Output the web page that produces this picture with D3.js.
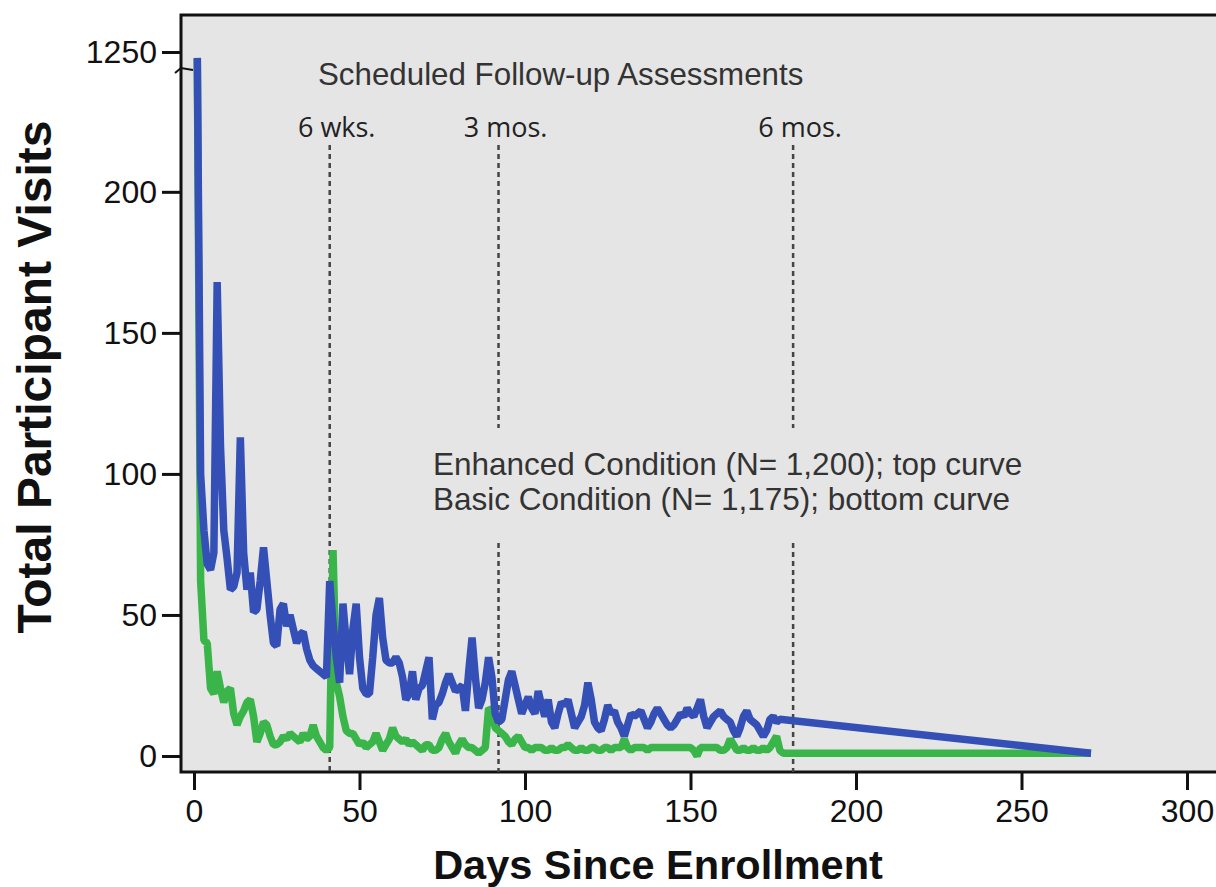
<!DOCTYPE html>
<html>
<head>
<meta charset="utf-8">
<script src="https://cdn.jsdelivr.net/npm/d3@7/dist/d3.min.js"></script>
<style>
  body { margin: 0; background: #fff; }
  text { font-family: "Liberation Sans", Arial, sans-serif; }
</style>
</head>
<body>
<div id="chart"></div>
<script>
// daily visit totals, starting at day 1
const firstDay = 1;
const enhanced = [
  1030, 100, 80, 68, 66, 72, 168, 110, 80, 70,
  59, 60, 65, 113, 72, 59, 65, 51, 52, 62,
  74, 62, 50, 40, 39, 52, 54, 46, 50, 45,
  40, 43, 44, 38, 34, 32, 31, 30, 29, 28,
  62, 47, 35, 26, 54, 40, 29, 45, 54, 35,
  24, 22, 22, 35, 50, 56, 42, 34, 33, 33,
  35, 33, 28, 20, 22, 30, 20, 24, 25, 30,
  35, 13, 18, 19, 22, 26, 29, 26, 23, 24,
  25, 16, 30, 42, 28, 17, 20, 26, 35, 28,
  15, 12, 13, 20, 27, 30, 25, 20, 15, 18,
  21, 17, 15, 23, 18, 14, 20, 12, 10, 15,
  19, 18, 20, 15, 10, 12, 14, 18, 26, 20,
  12, 10, 9, 13, 18, 15, 16, 12, 10, 7,
  11, 15, 14, 15, 16, 13, 10, 12, 15, 17,
  15, 13, 11, 10, 11, 13, 15, 14, 17, 15,
  14, 17, 20, 14, 10, 12, 14, 15, 16, 14,
  13, 12, 9, 7, 10, 14, 16, 13, 12, 11,
  9, 7, 9, 13, 14, 12, 13
];
const basic = [
  1000, 62, 41, 40, 24, 22, 30, 24, 19, 23,
  24, 15, 11, 14, 16, 19, 20, 14, 5, 8,
  12, 11, 7, 4, 4, 5, 7, 6, 8, 7,
  6, 5, 8, 6, 7, 11, 7, 5, 3, 2,
  3, 73, 26, 21, 14, 9, 8, 8, 6, 4,
  5, 3, 4, 5, 8, 5, 2, 4, 6, 10,
  7, 6, 5, 6, 4, 5, 4, 3, 2, 4,
  4, 2, 2, 3, 6, 8, 5, 3, 1, 4,
  6, 4, 3, 3, 2, 1, 2, 3, 17, 16,
  10, 9, 8, 7, 5, 4, 6, 7, 5, 3,
  3, 2, 3, 3, 3, 2, 2, 3, 2, 2,
  3, 3, 4, 3, 2, 2, 3, 2, 2, 3,
  3, 2, 2, 3, 3, 2, 3, 3, 3, 6,
  3, 2, 3, 3, 3, 3, 2, 3, 3, 3,
  3, 3, 3, 3, 3, 3, 3, 3, 3, 3,
  2, 0, 3, 3, 3, 3, 3, 3, 2, 2,
  3, 6, 4, 2, 2, 3, 2, 2, 3, 2,
  2, 3, 2, 3, 5, 7, 2, 1
];
// last recorded day of each group
const enhancedEnd = [271, 1];
const basicEnd = [271, 1];

const xTicks = [0, 50, 100, 150, 200, 250, 300];
const yTicks = [0, 50, 100, 150, 200, 1250];
const followUps = [
  { day: 41, label: "6 wks." },
  { day: 92, label: "3 mos." },
  { day: 181, label: "6 mos." }
];
const conditionNotes = [
  "Enhanced Condition (N= 1,200); top curve",
  "Basic Condition (N= 1,175); bottom curve"
];

const width = 1216, height = 887;
const blue = "#3450b6", green = "#39b54a";

const svg = d3.select("#chart").append("svg")
  .attr("width", width)
  .attr("height", height);

const frame = { left: 181, top: 15, right: 1240, bottom: 772 };

const x = d3.scaleLinear().domain([0, 300]).range([194, 1187]);
// broken axis: 0-240 linear, then squeezed up to 1250
const y = d3.scaleLinear().domain([0, 240, 1250]).range([756, 79, 52]);

svg.append("rect")
  .attr("x", frame.left)
  .attr("y", frame.top)
  .attr("width", frame.right - frame.left)
  .attr("height", frame.bottom - frame.top)
  .attr("fill", "#e5e5e5")
  .attr("stroke", "#111")
  .attr("stroke-width", 3);

// dashed follow-up markers
const gapTop = 428, gapBottom = 543;
followUps.forEach((f, i) => {
  const fx = x(f.day);
  const segs = i === 0 ? [[145, frame.bottom]] : [[145, gapTop], [gapBottom, frame.bottom]];
  segs.forEach(s => {
    svg.append("line")
      .attr("x1", fx).attr("x2", fx)
      .attr("y1", s[0]).attr("y2", s[1])
      .attr("stroke", "#444")
      .attr("stroke-width", 2.5)
      .attr("stroke-dasharray", "5,4");
  });
  svg.append("text")
    .attr("x", fx + 7)
    .attr("y", 137)
    .attr("text-anchor", "middle")
    .style("font-family", "'Open Sans', sans-serif")
    .style("font-size", "27px")
    .attr("fill", "#222")
    .text(f.label);
});

svg.append("text")
  .attr("x", 318)
  .attr("y", 85)
  .style("font-size", "31.3px")
  .attr("fill", "#333")
  .text("Scheduled Follow-up Assessments");

conditionNotes.forEach((t, i) => {
  svg.append("text")
    .attr("x", 433)
    .attr("y", 475 + i * 35)
    .style("font-size", "31.5px")
    .attr("fill", "#333")
    .text(t);
});

const line = d3.line()
  .x(d => x(d[0]))
  .y(d => y(d[1]));

const toPoints = (vals, end) => vals.map((v, i) => [firstDay + i, v]).concat([end]);

[[basic, basicEnd, green], [enhanced, enhancedEnd, blue]].forEach(([vals, end, col]) => {
  svg.append("path")
    .datum(toPoints(vals, end))
    .attr("d", line)
    .attr("fill", "none")
    .attr("stroke", col)
    .attr("stroke-width", 7.5)
    .attr("stroke-linejoin", "bevel");
});

// axes
const xAxis = svg.append("g")
  .attr("transform", `translate(0,${frame.bottom})`)
  .call(d3.axisBottom(x).tickValues(xTicks).tickSize(18).tickPadding(9).tickFormat(d3.format("d")));
const yAxis = svg.append("g")
  .attr("transform", `translate(${frame.left},0)`)
  .call(d3.axisLeft(y).tickValues(yTicks).tickSize(19).tickPadding(5).tickFormat(d3.format("d")));

[xAxis, yAxis].forEach(a => {
  a.select(".domain").remove();
  a.selectAll(".tick line").attr("stroke", "#111").attr("stroke-width", 3);
  a.selectAll(".tick text")
    .style("font-family", "'Liberation Sans', Arial, sans-serif")
    .style("font-size", "32px")
    .attr("fill", "#111");
});

// axis break mark
svg.append("path")
  .attr("d", "M175,73 L181,68 L193,70")
  .attr("fill", "none")
  .attr("stroke", "#111")
  .attr("stroke-width", 2);

svg.append("text")
  .attr("x", 658)
  .attr("y", 879)
  .attr("text-anchor", "middle")
  .style("font-size", "41.5px")
  .style("font-weight", "bold")
  .attr("fill", "#111")
  .text("Days Since Enrollment");

svg.append("text")
  .attr("transform", `translate(51,377) rotate(-90)`)
  .attr("text-anchor", "middle")
  .style("font-size", "48px")
  .style("font-weight", "bold")
  .attr("fill", "#111")
  .text("Total Participant Visits");
</script>
</body>
</html>
